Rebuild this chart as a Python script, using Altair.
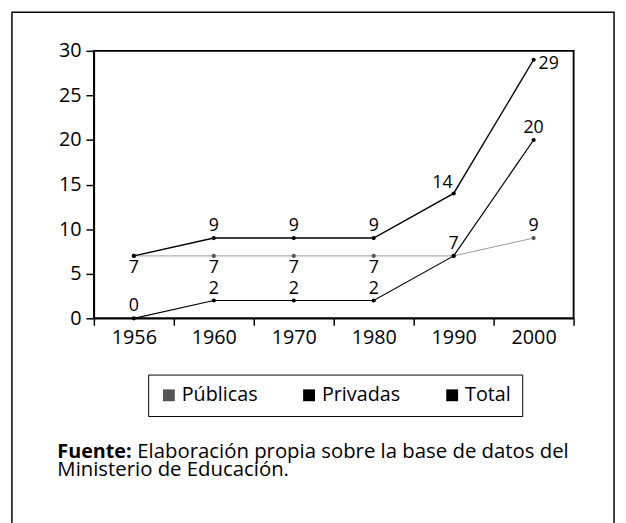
import altair as alt
import pandas as pd

years = ["1956", "1960", "1970", "1980", "1990", "2000"]
publicas = [7, 7, 7, 7, 7, 9]
privadas = [0, 2, 2, 2, 7, 20]
total = [7, 9, 9, 9, 14, 29]
series_names = ["Públicas", "Privadas", "Total"]
source_bold = "Fuente:"
source_line1 = "Elaboración propia sobre la base de datos del"
source_line2 = "Ministerio de Educación."

FONT = "Open Sans"
W, H = 486, 271

rows = []
for name, vals in zip(series_names, [publicas, privadas, total]):
    for y, v in zip(years, vals):
        rows.append({"series": name, "year": y, "value": v})
df = pd.DataFrame(rows)

xenc = alt.X("year:O", sort=years,
             scale=alt.Scale(type="band", paddingInner=0, paddingOuter=0),
             axis=alt.Axis(title=None, labelAngle=0, tickBand="extent", tickSize=7,
                           labelPadding=3, labelFontSize=20, labelFont=FONT,
                           labelColor="black", domainColor="black", tickColor="black",
                           domainWidth=1.5, tickWidth=1.5, grid=False))
yenc = alt.Y("value:Q", scale=alt.Scale(domain=[0, 30], nice=False),
             axis=alt.Axis(title=None, values=[0, 5, 10, 15, 20, 25, 30], tickSize=8,
                           labelPadding=5, labelFontSize=20, labelFont=FONT,
                           labelColor="black", domainColor="black", tickColor="black",
                           domainWidth=1.5, tickWidth=1.5, grid=False))

base = alt.Chart(df)

lines = base.mark_line().encode(
    x=xenc, y=yenc,
    detail="series:N",
    stroke=alt.Stroke("series:N", scale=alt.Scale(domain=series_names,
                      range=["#9a9a9a", "black", "black"]), legend=None),
    strokeWidth=alt.StrokeWidth("series:N", scale=alt.Scale(domain=series_names,
                      range=[1, 1.4, 1.6]), legend=None),
)

dots = base.mark_point(filled=True, shape="circle", size=18, opacity=1).encode(
    x=xenc, y=yenc,
    fill=alt.Fill("series:N", scale=alt.Scale(domain=series_names,
                  range=["#555555", "black", "black"]),
                  legend=alt.Legend(title=None, orient="none", direction="horizontal",
                                    legendX=55, legendY=328, symbolType="square",
                                    symbolSize=144, symbolOpacity=1, symbolStrokeWidth=0,
                                    labelFontSize=20, labelFont=FONT, labelColor="black",
                                    columnPadding=42, labelOffset=3, padding=11,
                                    strokeColor="black", labelLimit=300)),
)

txt = dict(fontSize=18, font=FONT, color="black")

above = base.mark_text(baseline="bottom", dy=-3, **txt).encode(
    x=xenc, y=yenc, text="value:Q"
).transform_filter(
    "(datum.series == 'Privadas') || (datum.series == 'Total' && (datum.year == '1960' || datum.year == '1970' || datum.year == '1980')) || (datum.series == 'Públicas' && datum.year == '2000')"
)

below = base.mark_text(baseline="top", dy=3, **txt).encode(
    x=xenc, y=yenc, text="value:Q"
).transform_filter(
    "datum.series == 'Públicas' && datum.year != '1990' && datum.year != '2000'"
)

left_above = base.mark_text(baseline="bottom", align="right", dx=-1, dy=-2, **txt).encode(
    x=xenc, y=yenc, text="value:Q"
).transform_filter("datum.series == 'Total' && datum.year == '1990'")

right = base.mark_text(baseline="middle", align="left", dx=5, dy=4, **txt).encode(
    x=xenc, y=yenc, text="value:Q"
).transform_filter("datum.series == 'Total' && datum.year == '2000'")

one = alt.Chart(pd.DataFrame({"k": [0]}))

frame = one.mark_rect(fill="transparent", stroke="black", strokeWidth=1.5, clip=False).encode(
    x=alt.value(-83), x2=alt.value(527), y=alt.value(-39), y2=alt.value(490)
)
plot_frame = one.mark_rect(fill="transparent", stroke="black", strokeWidth=1.5).encode(
    x=alt.value(0), x2=alt.value(W), y=alt.value(0), y2=alt.value(H)
)

src_b = one.mark_text(align="left", baseline="alphabetic", fontWeight="bold",
                      fontSize=20, font=FONT, color="black").encode(
    x=alt.value(-37), y=alt.value(413), text=alt.value(source_bold))
src_1 = one.mark_text(align="left", baseline="alphabetic",
                      fontSize=20.6, font=FONT, color="black").encode(
    x=alt.value(44), y=alt.value(413), text=alt.value(source_line1))
src_2 = one.mark_text(align="left", baseline="alphabetic",
                      fontSize=20.6, font=FONT, color="black").encode(
    x=alt.value(-37), y=alt.value(431), text=alt.value(source_line2))

chart = alt.layer(frame, plot_frame, lines, dots, above, below, left_above, right,
                  src_b, src_1, src_2).resolve_scale(fill="independent").properties(
    width=W, height=H,
    autosize=alt.AutoSizeParams(type="none"),
    padding={"left": 87, "top": 40, "right": 45, "bottom": 204},
    background="white",
).configure_view(stroke="black", strokeWidth=1.5)

chart.save("out.html", embed_options={"renderer": "svg", "actions": False})
